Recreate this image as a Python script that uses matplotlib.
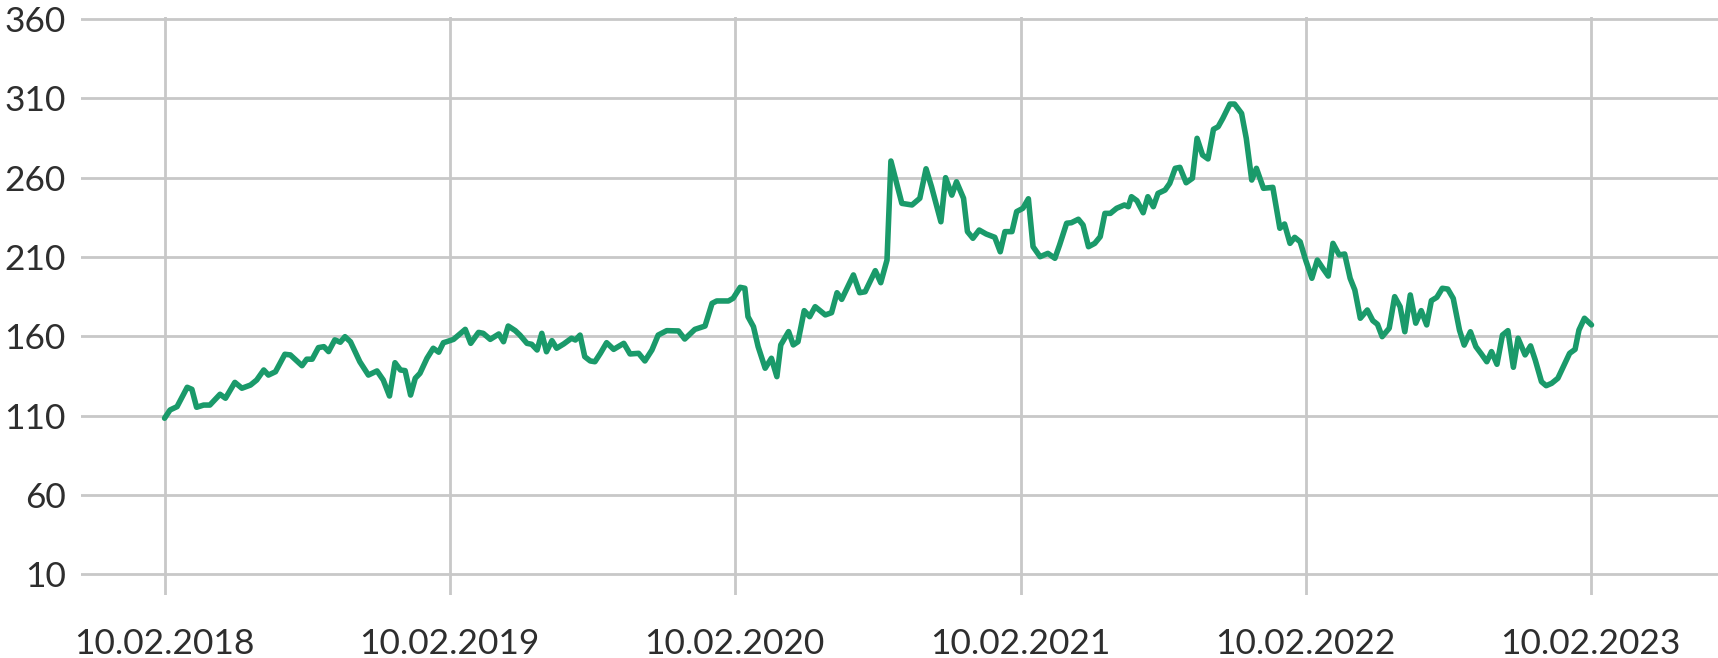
import numpy as np
import matplotlib
matplotlib.use("Agg")
import matplotlib.pyplot as plt
import matplotlib.dates as mdates

# Days since 10.02.2018 and price values
days = [0, 7, 16, 29, 35, 41, 50, 58, 71, 78, 90, 99, 110, 118, 127, 133, 142, 154, 161, 176,
        182, 189, 197, 204, 210, 218, 225, 231, 238, 250, 261, 272, 280, 288, 295, 302, 308, 315, 321, 327,
        336, 344, 351, 357, 361, 370, 385, 392, 402, 408, 417, 428, 434, 440, 449, 455, 464, 470, 477, 483,
        489, 496, 502, 511, 521, 526, 532, 538, 545, 551, 558, 566, 575, 588, 596, 607, 615, 624, 632, 643,
        658, 666, 679, 692, 701, 707, 722, 728, 737, 743, 747, 754, 760, 769, 777, 784, 789, 799, 805, 811,
        819, 826, 833, 846, 854, 861, 867, 882, 890, 897, 910, 917, 925, 930, 944, 957, 967, 975, 982, 994,
        1000, 1008, 1014, 1023, 1028, 1035, 1043, 1052, 1063, 1070, 1076, 1085, 1091, 1099, 1106, 1112, 1121, 1131, 1140, 1146,
        1155, 1161, 1170, 1176, 1183, 1191, 1198, 1204, 1211, 1219, 1229, 1234, 1238, 1245, 1253, 1259, 1266, 1272, 1281, 1287,
        1294, 1300, 1308, 1316, 1322, 1329, 1336, 1343, 1349, 1355, 1364, 1370, 1379, 1385, 1392, 1398, 1407, 1419, 1428, 1434,
        1441, 1447, 1454, 1461, 1469, 1476, 1483, 1490, 1496, 1504, 1511, 1518, 1524, 1531, 1540, 1547, 1553, 1559, 1568, 1575,
        1582, 1588, 1595, 1602, 1609, 1616, 1622, 1629, 1636, 1643, 1650, 1658, 1664, 1672, 1679, 1686, 1693, 1699, 1706, 1713,
        1720, 1727, 1733, 1742, 1749, 1755, 1763, 1769, 1776, 1784, 1793, 1799, 1806, 1811, 1818, 1827]

values = [108.4, 113.6, 115.7, 127.9, 126.6, 115.3, 116.7, 116.7, 123.5, 121.0, 131.0, 127.3, 129.3, 132.5, 138.8, 135.6, 137.7, 148.7, 148.3, 141.5,
          145.6, 145.6, 152.9, 153.5, 150.4, 157.8, 156.3, 159.8, 156.6, 144.0, 135.6, 138.2, 132.5, 122.4, 143.4, 138.8, 138.4, 123.0, 133.6, 136.7,
          146.2, 152.5, 150.0, 156.0, 156.6, 158.1, 164.4, 155.6, 162.5, 161.9, 158.1, 161.5, 156.6, 166.5, 163.6, 160.8, 155.6, 155.0, 151.4, 161.9,
          150.3, 157.3, 152.5, 155.2, 158.8, 157.7, 160.8, 147.2, 144.5, 144.0, 149.3, 156.0, 151.8, 155.6, 148.9, 149.3, 144.5, 151.4, 160.8, 163.6,
          163.4, 158.3, 164.4, 166.5, 180.8, 182.3, 182.3, 184.0, 190.9, 190.3, 172.4, 166.1, 153.5, 139.9, 146.2, 134.6, 154.6, 163.0, 154.6, 156.6,
          176.2, 172.4, 178.7, 173.5, 174.9, 187.5, 183.3, 198.7, 187.5, 188.1, 201.4, 193.8, 208.1, 270.5, 243.8, 242.8, 247.0, 265.6, 254.3, 232.2,
          260.0, 249.0, 257.4, 247.0, 226.0, 221.8, 227.0, 224.5, 222.4, 213.3, 226.0, 226.0, 238.6, 240.7, 246.7, 216.5, 210.2, 212.3, 209.2, 217.6,
          231.3, 231.6, 233.8, 230.2, 216.5, 218.6, 222.8, 237.5, 237.5, 240.7, 242.8, 241.7, 248.0, 245.5, 237.9, 248.0, 241.7, 250.1, 252.2, 256.4,
          265.9, 266.5, 256.8, 259.6, 284.8, 274.3, 271.8, 290.5, 292.1, 297.4, 306.4, 306.4, 300.5, 284.8, 258.5, 265.9, 253.3, 253.9, 228.1, 230.8,
          218.6, 222.4, 219.6, 208.1, 196.6, 208.1, 202.9, 198.0, 218.6, 211.3, 211.9, 196.6, 189.2, 171.4, 176.6, 169.9, 167.6, 159.8, 165.1, 185.0,
          178.7, 162.9, 186.1, 168.3, 176.2, 167.2, 182.5, 184.6, 190.3, 189.8, 183.9, 163.9, 154.5, 162.9, 153.5, 148.9, 144.0, 150.4, 142.4, 160.8,
          163.6, 140.5, 158.8, 148.3, 154.0, 145.1, 131.4, 128.9, 130.4, 133.6, 143.0, 149.3, 151.8, 164.0, 171.4, 167.2]

tick_dates = ["2018-02-10", "2019-02-10", "2020-02-10", "2021-02-10", "2022-02-10", "2023-02-10"]
tick_labels = ["10.02.2018", "10.02.2019", "10.02.2020", "10.02.2021", "10.02.2022", "10.02.2023"]
y_ticks = [10, 60, 110, 160, 210, 260, 310, 360]

base = np.datetime64("2018-02-10")
dates = base + np.array(days).astype("timedelta64[D]")

plt.rcParams['font.family'] = ['Lato', 'DejaVu Sans']

fig = plt.figure(figsize=(17.18, 6.58), dpi=100)
ax = fig.add_axes([81 / 1718, 1 - 595 / 658, 1 - 81 / 1718, (595 - 17.4) / 658])

ax.plot(dates, values, color="#1a9a6a", lw=4.0, solid_joinstyle="round", solid_capstyle="round", zorder=3)

ax.set_ylim(-3, 361)
ax.set_xlim(base - np.timedelta64(107, "D"), base + np.timedelta64(1989, "D"))

ax.set_yticks(y_ticks)
ax.set_yticklabels([str(v) for v in y_ticks])
tick_pos = [np.datetime64(d) for d in tick_dates]
ax.set_xticks(tick_pos)
ax.set_xticklabels(tick_labels)

ax.grid(True, color="#c8c8c8", lw=2.0)
ax.set_axisbelow(True)
for s in ax.spines.values():
    s.set_visible(False)

ax.tick_params(axis="both", length=0, labelsize=25.5, labelcolor="#2e2e2e")
ax.tick_params(axis="y", pad=11)
ax.tick_params(axis="x", pad=24)

fig.savefig("out.png", dpi=100)
